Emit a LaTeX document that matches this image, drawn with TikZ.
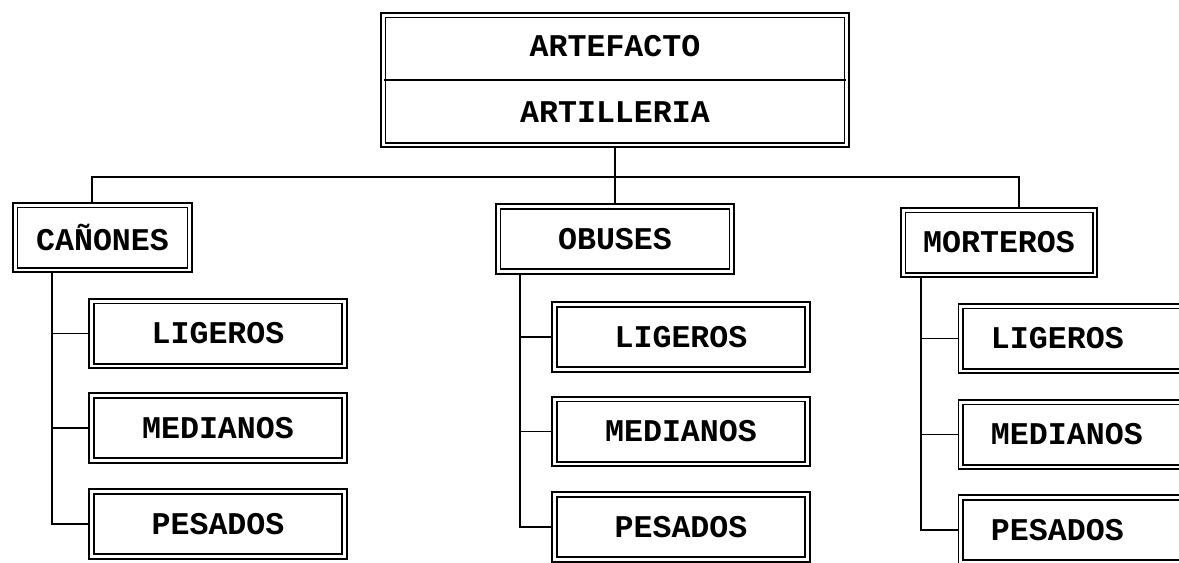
\documentclass[tikz,border=0pt]{standalone}
\usepackage{fontspec}
\setmainfont{Liberation Mono}
\usetikzlibrary{backgrounds}
\tikzset{
  box/.style={draw, double, double distance=1.7pt, line width=1.1pt,
    minimum height=1.3cm, inner sep=0pt,
    font=\bfseries\fontsize{18}{20}\selectfont},
  sub/.style={box, minimum width=5.06cm},
  rbox/.style={box, anchor=west, text width=4cm, inner xsep=0.6cm, align=left},
  lbl/.style={font=\bfseries\fontsize{18}{20}\selectfont},
  link/.style={line width=1.1pt}
}
\begin{document}
\begin{tikzpicture}[x=0.02cm, y=-0.02cm]
      \clip (0,0) rectangle (1179,562);

      %%root
      \node[box, minimum width=9.28cm, minimum height=2.6cm] (root) at (615,80){};
      \draw[link, shorten <=1pt, shorten >=1pt](root.west) to (root.east);
      \node[lbl] (artefacto) at (615,46){ARTEFACTO};
      \node[lbl] (artilleria) at (615,112){ARTILLERIA};

      %%L1
      \node[box, minimum width=3.5cm] (canones) at (102.5,237.5){CAÑONES};
        \node[sub] (ligL) at (218,333.5){LIGEROS};
        \node[sub] (medL) at (218,428){MEDIANOS};
        \node[sub] (pesL) at (218,524){PESADOS};

      %%L2
      \node[box, minimum width=4.68cm] (obuses) at (615,239){OBUSES};
        \node[sub] (ligM) at (681,337){LIGEROS};
        \node[sub] (medM) at (681,431.5){MEDIANOS};
        \node[sub] (pesM) at (681,527){PESADOS};

      %%L3
      \node[box, minimum width=3.84cm] (morteros) at (999,242.5){MORTEROS};
        \node[rbox] (ligR) at (960,338.5){LIGEROS};
        \node[rbox] (medR) at (960,434.5){MEDIANOS};
        \node[rbox] (pesR) at (960,530){PESADOS};

      \begin{scope}[on background layer]
      \fill[white] (0,0) rectangle (1179,562);
      \coordinate (bus) at (615,177);
      \draw[link](root.south) to (bus);
      \draw[link]([xshift=-0.21cm]canones.north) |- (bus) -| ([xshift=0.4cm]morteros.north);
      \draw[link](bus) to (obuses.north);

      \coordinate (vL) at ([xshift=-1.01cm]canones.south);
      \draw[link](vL) |- (pesL.west);
        \draw[link](ligL.west) to (ligL.west -| vL);
        \draw[link](medL.west) to (medL.west -| vL);

      \coordinate (vM) at ([xshift=-1.9cm]obuses.south);
      \draw[link](vM) |- (pesM.west);
        \draw[link](ligM.west) to (ligM.west -| vM);
        \draw[link](medM.west) to (medM.west -| vM);

      \coordinate (vR) at ([xshift=-1.56cm]morteros.south);
      \draw[link](vR) |- (pesR.west);
        \draw[link](ligR.west) to (ligR.west -| vR);
        \draw[link](medR.west) to (medR.west -| vR);
      \end{scope}
\end{tikzpicture}
\end{document}
